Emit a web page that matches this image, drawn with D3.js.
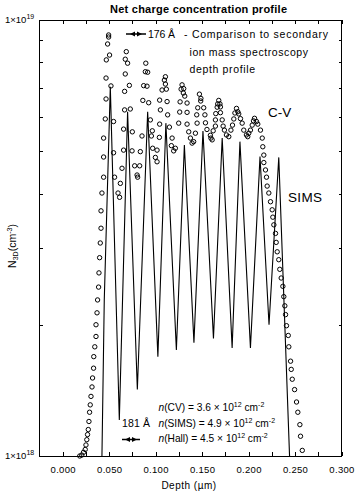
<!DOCTYPE html>
<html><head><meta charset="utf-8">
<script src="https://cdn.jsdelivr.net/npm/d3@7/dist/d3.min.js"></script>
<style>
body{margin:0;background:#fff}
text{font-family:"Liberation Sans",Arial,Helvetica,sans-serif;fill:#000}
</style>
</head><body>
<svg id="c" width="362" height="498"></svg>
<script>
// ---- data (depth in µm, N in units of 1e18 cm^-3) ----
const xTickValues = [0,0.025,0.05,0.075,0.1,0.125,0.15,0.175,0.2,0.225,0.25,0.275,0.3];
const xTickLabels = ["0.000","0.050","0.100","0.150","0.200","0.250","0.300"];
const yMinorTicks = [2,3,4,5,6,7,8,9];
const yEndLabels = [{v:1, exp:"18"},{v:10, exp:"19"}];

const simsDepth = [0.0422,0.0447,0.0512,0.0609,0.0698,0.0803,0.0914,0.1024,0.1110,0.1223,0.1309,0.1412,0.1509,0.1622,0.1716,0.1823,0.1907,0.2020,0.2123,0.2220,0.2325,0.2441];
const simsN     = [1.00,2.28,7.03,1.21,6.16,1.42,6.16,1.69,5.80,1.75,5.17,1.82,5.56,1.86,5.36,1.77,5.26,1.77,4.86,2.00,4.84,1.00];

const cvDepth = [
 0.0183,0.0205,0.0224,0.0242,0.0250,0.0259,0.0267,0.0275,0.0282,0.0289,0.0296,0.0304,0.0315,0.0321,0.0332,0.0334,0.0345,0.0358,0.0358,0.0369,0.0375,0.0386,0.0390,0.0397,0.0404,0.0412,0.0412,0.0422,0.0440,0.0440,0.0440,0.0458,0.0466,0.0466,0.0469,0.0483,0.0494,0.0494,
 0.0504,0.0519,0.0547,0.0547,0.0558,0.0595,0.0612,
 0.0620,0.0638,0.0655,0.0655,0.0666,0.0666,0.0673,0.0673,0.0684,
 0.0698,0.0717,0.0727,0.0749,0.0746,0.0774,0.0800,0.0806,
 0.0828,0.0835,0.0853,0.0862,0.0871,0.0889,0.0894,
 0.0914,0.0907,0.0925,0.0943,0.0964,0.0954,0.0968,0.0997,0.1015,
 0.1015,0.1040,0.1043,0.1051,0.1043,0.1069,0.1094,0.1105,
 0.1105,0.1115,0.1123,0.1129,0.1148,0.1177,0.1169,0.1194,0.1212,
 0.1248,0.1259,0.1263,0.1274,0.1284,
 0.1302,0.1298,0.1313,0.1338,0.1338,0.1338,0.1356,0.1374,0.1392,0.1409,
 0.1428,0.1446,0.1442,0.1453,0.1471,
 0.1487,0.1485,0.1517,0.1530,0.1536,0.1552,0.1589,0.1595,0.1608,
 0.1619,0.1643,0.1643,0.1647,0.1662,0.1668,0.1679,
 0.1692,0.1697,0.1697,0.1716,0.1726,0.1740,0.1762,0.1787,
 0.1810,0.1827,0.1841,0.1853,0.1870,
 0.1884,0.1894,0.1913,0.1931,0.1948,0.1977,0.1991,
 0.2002,0.2020,0.2039,0.2053,0.2064,
 0.2085,0.2099,0.2128,0.2147,0.2153,0.2164,0.2164,0.2182,0.2193,0.2200,0.2218,0.2236,0.2254,0.2261,0.2272,0.2290,0.2297,0.2308,0.2325,0.2336,0.2351,0.2369,0.2379,0.2390,0.2398,0.2408,0.2427,0.2433,0.2452,0.2459,0.2470,0.2495,0.2516,0.2530,0.2552,0.2559,0.2578
];
const cvN = [
 1.00,1.005,1.02,1.035,1.06,1.09,1.12,1.15,1.20,1.26,1.31,1.37,1.44,1.51,1.59,1.69,1.78,1.88,2.00,2.13,2.28,2.44,2.63,2.85,3.08,3.33,3.65,4.01,4.36,4.85,5.36,5.93,6.59,7.36,8.10,8.81,9.14,9.24,
 8.31,7.06,5.85,4.96,4.36,4.01,3.92,
 4.22,4.57,5.03,5.62,6.22,6.86,7.52,8.13,8.46,
 7.96,7.08,6.25,5.54,5.01,4.63,4.41,4.36,
 4.63,4.99,5.42,6.54,7.07,7.61,7.96,
 7.59,7.05,6.46,5.90,5.57,5.42,5.08,4.84,4.73,
 5.03,5.38,5.77,6.22,6.55,6.91,7.28,7.41,
 7.13,6.94,6.50,6.06,5.68,5.36,5.15,5.01,5.08,
 5.80,6.15,6.49,6.94,7.10,
 6.96,6.80,6.69,6.45,6.14,5.77,5.54,5.36,5.22,5.26,
 5.50,5.80,6.06,6.29,6.76,
 6.61,6.52,6.29,6.06,5.81,5.61,5.44,5.36,5.31,
 5.57,5.71,5.90,6.10,6.31,6.42,6.54,
 6.42,6.32,6.13,5.90,5.71,5.59,5.45,5.40,
 5.59,5.74,5.93,6.12,6.27,
 6.16,6.09,5.94,5.80,5.59,5.45,5.40,
 5.50,5.59,5.74,5.87,5.95,
 5.85,5.77,5.59,5.36,5.12,4.90,4.71,4.53,4.36,4.16,4.01,3.83,3.67,3.53,3.39,3.24,3.09,2.94,2.82,2.68,2.56,2.45,2.32,2.21,2.11,1.99,1.89,1.78,1.65,1.58,1.50,1.42,1.33,1.26,1.18,1.11,1.03
];

// ---- layout ----
const svg = d3.select("#c");
const L = 39.5, R = 341.5, T = 20, B = 456;
const x = d3.scaleLinear().domain([-0.025, 0.3]).range([L, R]);
const y = d3.scaleLog().domain([1, 10]).range([B, T]);

// axes (ticks inward)
const fmt = d => { const i = Math.round(d/0.05*1000)/1000; return Number.isInteger(i) ? xTickLabels[i] : ""; };
const gB = svg.append("g").attr("transform",`translate(0,${B})`)
  .call(d3.axisBottom(x).tickValues(xTickValues).tickSizeInner(-4).tickSizeOuter(0).tickPadding(10).tickFormat(fmt));
const gT = svg.append("g").attr("transform",`translate(0,${T})`)
  .call(d3.axisTop(x).tickValues(xTickValues).tickSizeInner(-4).tickSizeOuter(0).tickFormat(""));
const gL = svg.append("g").attr("transform",`translate(${L},0)`)
  .call(d3.axisLeft(y).tickValues(yMinorTicks).tickSizeInner(-3).tickSizeOuter(0).tickFormat(""));
const gR = svg.append("g").attr("transform",`translate(${R},0)`)
  .call(d3.axisRight(y).tickValues(yMinorTicks).tickSizeInner(-3).tickSizeOuter(0).tickFormat(""));
[gB,gT,gL,gR].forEach(g=>{ g.select(".domain").remove(); g.selectAll("line").attr("stroke","#000").attr("shape-rendering","crispEdges"); });
gB.selectAll("text").attr("font-size","9.5px").attr("font-family",'"Liberation Sans",Arial,sans-serif').attr("fill","#000").attr("letter-spacing","0.3px");

svg.append("rect").attr("x",L).attr("y",T).attr("width",R-L).attr("height",B-T)
  .attr("fill","none").attr("stroke","#000").attr("stroke-width",1).attr("shape-rendering","crispEdges");

// y end labels
yEndLabels.forEach(o=>{
  const t = svg.append("text").attr("x",5).attr("y",y(o.v)+3).attr("font-size","9.5px");
  t.append("tspan").text("1×10");
  t.append("tspan").attr("dy",-4).attr("font-size","7px").text(o.exp);
});

// SIMS line
const line = d3.line().x((d,i)=>x(simsDepth[i])).y((d,i)=>y(simsN[i]));
svg.append("path").datum(simsN).attr("d",line).attr("fill","none").attr("stroke","#000").attr("stroke-width",1.1);

// C-V circles
svg.append("g").selectAll("circle").data(cvN).join("circle")
  .attr("cx",(d,i)=>x(cvDepth[i])).attr("cy",d=>y(d)).attr("r",2.2)
  .attr("fill","none").attr("stroke","#000").attr("stroke-width",1);

// title & axis titles
svg.append("text").attr("x",110).attr("y",13).attr("textLength",177).attr("lengthAdjust","spacing")
  .attr("font-size","11px").attr("font-weight","bold").text("Net charge concentration profile");
svg.append("text").attr("x",189).attr("y",489).attr("text-anchor","middle").attr("font-size","10px")
  .attr("letter-spacing","0.5px").text("Depth (µm)");
const yl = svg.append("text").attr("transform","translate(16,246) rotate(-90)").attr("text-anchor","middle").attr("font-size","10.5px");
yl.append("tspan").text("N");
yl.append("tspan").attr("dy",2).attr("font-size","7px").text("3D");
yl.append("tspan").attr("dy",-2).text("(cm");
yl.append("tspan").attr("dy",-4).attr("font-size","7px").text("-3");
yl.append("tspan").attr("dy",4).text(")");

// double arrows
function dblArrow(x1,x2,yy){
  svg.append("line").attr("x1",x1).attr("x2",x2).attr("y1",yy).attr("y2",yy).attr("stroke","#000").attr("stroke-width",1.5);
  const m=(x1+x2)/2;
  svg.append("path").attr("d",`M${m-1},${yy-2.5}L${m-6},${yy}L${m-1},${yy+2.5}Z`).attr("fill","#000");
  svg.append("path").attr("d",`M${m+1},${yy-2.5}L${m+6},${yy}L${m+1},${yy+2.5}Z`).attr("fill","#000");
}
dblArrow(126,146,34);
dblArrow(122,140,439.5);

// annotations
const ann = (tx,xx,yy,fs,w)=>{ const t=svg.append("text").attr("x",xx).attr("y",yy).attr("font-size",fs||"10.5px").text(tx);
  if(w) t.attr("textLength",w).attr("lengthAdjust","spacing"); return t; };
ann("176 Å",148,38,"10.5px",27);
ann("- Comparison to secondary",184,38,"10.5px",144);
ann("ion mass spectroscopy",189.5,56,"10.5px",118.5);
ann("depth profile",189.5,73,"10.5px",65.5);
ann("C-V",268,117,"13.5px");
ann("SIMS",288,202,"13.5px",34);
ann("181 Å",122,427,"10.5px",28);

function nLine(label,val,yy){
  const t = svg.append("text").attr("x",158.5).attr("y",yy).attr("font-size","10.2px");
  t.append("tspan").attr("font-style","italic").text("n");
  t.append("tspan").text(`(${label}) = ${val} × 10`);
  t.append("tspan").attr("dy",-4).attr("font-size","7px").text("12");
  t.append("tspan").attr("dy",4).text(" cm");
  t.append("tspan").attr("dy",-4).attr("font-size","7px").text("-2");
}
nLine("CV","3.6",411);
nLine("SIMS","4.9",427);
nLine("Hall","4.5",442);
</script>
</body></html>
